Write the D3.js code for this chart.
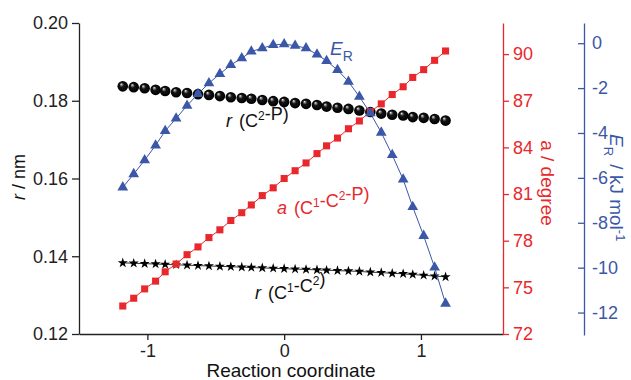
<!DOCTYPE html>
<html>
<head>
<meta charset="utf-8">
<script src="https://cdn.jsdelivr.net/npm/d3@7/dist/d3.min.js"></script>
<style>
  body { margin: 0; background: #fff; }
  svg { font-family: "Liberation Sans", Arial, sans-serif; }
</style>
</head>
<body>
<div id="chart"></div>
<script>
// reaction coordinate, shared by all four series
const coord = [-1.18, -1.10, -1.02, -0.94, -0.87, -0.79, -0.71, -0.63, -0.55, -0.47, -0.39,
  -0.31, -0.24, -0.16, -0.08, 0, 0.08, 0.16, 0.24, 0.31, 0.39, 0.47, 0.55, 0.63, 0.71,
  0.79, 0.87, 0.94, 1.02, 1.10, 1.18];

// r(C2-P) in nm
const rC2P = [0.1837, 0.1835, 0.1832, 0.1828, 0.1825, 0.1822, 0.1820, 0.1817, 0.1815, 0.1812,
  0.1809, 0.1807, 0.1805, 0.1802, 0.1799, 0.1797, 0.1794, 0.1792, 0.1789, 0.1785, 0.1782,
  0.1779, 0.1775, 0.1771, 0.1767, 0.1764, 0.1762, 0.1758, 0.1756, 0.1753, 0.1749];

// r(C1-C2) in nm
const rC1C2 = [0.1383, 0.1382, 0.1381, 0.1380, 0.1379, 0.1378, 0.1377, 0.1376, 0.1375, 0.1374,
  0.1373, 0.1372, 0.1371, 0.1370, 0.1369, 0.1368, 0.1367, 0.1366, 0.1365, 0.1364, 0.1363,
  0.1362, 0.1361, 0.1359, 0.1358, 0.1356, 0.1355, 0.1353, 0.1351, 0.1349, 0.1347];

// a(C1-C2-P) in degree
const angle = [73.8, 74.3, 74.9, 75.4, 76.0, 76.5, 77.1, 77.6, 78.2, 78.7, 79.3, 79.8, 80.3,
  80.9, 81.4, 82.0, 82.5, 83.0, 83.6, 84.1, 84.6, 85.2, 85.7, 86.3, 86.8, 87.4, 87.9, 88.5,
  89.0, 89.6, 90.2];

// E_R in kJ/mol
const energy = [-6.42, -5.83, -5.21, -4.55, -3.91, -3.35, -2.78, -2.26, -1.78, -1.37, -0.97,
  -0.67, -0.37, -0.22, -0.08, -0.04, -0.11, -0.22, -0.50, -0.79, -1.19, -1.71, -2.38, -3.12,
  -3.98, -4.98, -6.07, -7.29, -8.58, -9.99, -11.60];

const xTicks = [-1, 0, 1];
const rTicks = [0.12, 0.14, 0.16, 0.18, 0.20];
const aTicks = [72, 75, 78, 81, 84, 87, 90];
const eTicks = [0, -2, -4, -6, -8, -10, -12];

const W = 631, H = 380;
const red = '#e8282c', blue = '#3b58a8';

const svg = d3.select('#chart').append('svg')
  .attr('width', W).attr('height', H);

const x = d3.scaleLinear().domain([-1.5, 1.6]).range([79, 503]);
const yR = d3.scaleLinear().domain([0.12, 0.20]).range([334, 23]);
const yA = d3.scaleLinear().domain([72, 92]).range([334, 23]);
const yE = d3.scaleLinear().domain([-13, 0.9]).range([335, 23]);

function styleAxis(g, color) {
  g.select('.domain').attr('stroke', color).attr('stroke-width', 1.3);
  g.selectAll('.tick line').attr('stroke', color).attr('stroke-width', 1.3);
  g.selectAll('.tick text').attr('fill', color).style('font-size', '18px')
    .style('font-family', '"Liberation Sans", Arial, sans-serif');
}

// axes
svg.append('g')
  .attr('transform', 'translate(0,334)')
  .call(d3.axisBottom(x).tickValues(xTicks).tickSize(6).tickPadding(4).tickSizeOuter(0)
    .tickFormat(d => String(d)))
  .call(g => styleAxis(g, '#222'));

svg.append('g')
  .attr('transform', 'translate(79,0)')
  .call(d3.axisLeft(yR).tickValues(rTicks).tickSize(7).tickPadding(4).tickSizeOuter(0)
    .tickFormat(d3.format('.2f')))
  .call(g => styleAxis(g, '#222'));

svg.append('g')
  .attr('transform', 'translate(503,0)')
  .call(d3.axisRight(yA).tickValues(aTicks).tickSize(6).tickPadding(4).tickSizeOuter(0)
    .tickFormat(d => String(d)))
  .call(g => styleAxis(g, red));

svg.append('g')
  .attr('transform', 'translate(584,0)')
  .call(d3.axisRight(yE).tickValues(eTicks).tickSize(-6).tickPadding(8).tickSizeOuter(0)
    .tickFormat(d => String(d)))
  .call(g => styleAxis(g, blue));

// axis titles
svg.append('text')
  .attr('x', 291).attr('y', 377).attr('text-anchor', 'middle')
  .style('font-size', '19px').attr('fill', '#111')
  .text('Reaction coordinate');

const tR = svg.append('text')
  .attr('transform', 'translate(25,177) rotate(-90)').attr('text-anchor', 'middle')
  .style('font-size', '18px').attr('fill', '#111');
tR.append('tspan').style('font-style', 'italic').text('r');
tR.append('tspan').text(' / nm');

svg.append('text')
  .attr('transform', 'translate(541,183) rotate(90)').attr('text-anchor', 'middle')
  .style('font-size', '19px').attr('fill', red)
  .text('a / degree');

const tE = svg.append('text')
  .attr('transform', 'translate(610,134) rotate(90)')
  .style('font-size', '19px').attr('fill', blue);
tE.append('tspan').style('font-style', 'italic').text('E');
tE.append('tspan').attr('dy', 6).style('font-size', '13px').text('R');
tE.append('tspan').attr('dy', -6).attr('dx', 3).text(' /  kJ  mol');
tE.append('tspan').attr('dy', -6).style('font-size', '13px').text('-1');

// series
const pts = arr => coord.map((c, i) => [c, arr[i]]);

// r(C1-C2): stars joined by a thin line
svg.append('path')
  .datum(pts(rC1C2))
  .attr('fill', 'none').attr('stroke', '#000').attr('stroke-width', 0.8)
  .attr('d', d3.line().x(d => x(d[0])).y(d => yR(d[1])));
svg.append('g').selectAll('path')
  .data(pts(rC1C2)).join('path')
  .attr('transform', d => `translate(${x(d[0])},${yR(d[1])})`)
  .attr('d', d3.symbol(d3.symbolStar, 32)())
  .attr('fill', '#000');

// r(C2-P): shaded black spheres
const defs = svg.append('defs');
const grad = defs.append('radialGradient').attr('id', 'ball')
  .attr('cx', '50%').attr('cy', '50%').attr('r', '50%')
  .attr('fx', '34%').attr('fy', '28%');
grad.append('stop').attr('offset', '0%').attr('stop-color', '#ffffff');
grad.append('stop').attr('offset', '14%').attr('stop-color', '#9a9a9a');
grad.append('stop').attr('offset', '40%').attr('stop-color', '#141414');
grad.append('stop').attr('offset', '100%').attr('stop-color', '#000');

svg.append('g').selectAll('circle')
  .data(pts(rC2P)).join('circle')
  .attr('cx', d => x(d[0])).attr('cy', d => yR(d[1])).attr('r', 5.3)
  .attr('fill', 'url(#ball)');

// a(C1-C2-P): red squares
svg.append('path')
  .datum(pts(angle))
  .attr('fill', 'none').attr('stroke', red).attr('stroke-width', 1)
  .attr('d', d3.line().x(d => x(d[0])).y(d => yA(d[1])));
svg.append('g').selectAll('path')
  .data(pts(angle)).join('path')
  .attr('transform', d => `translate(${x(d[0])},${yA(d[1])})`)
  .attr('d', d3.symbol(d3.symbolSquare, 50)())
  .attr('fill', red);

// E_R: blue triangles
svg.append('path')
  .datum(pts(energy))
  .attr('fill', 'none').attr('stroke', blue).attr('stroke-width', 1)
  .attr('d', d3.line().x(d => x(d[0])).y(d => yE(d[1])));
svg.append('g').selectAll('path')
  .data(pts(energy)).join('path')
  .attr('transform', d => `translate(${x(d[0])},${yE(d[1])})`)
  .attr('d', d3.symbol(d3.symbolTriangle, 50)())
  .attr('fill', blue);

// series labels
function label(px, py, color, sym, parts) {
  const t = svg.append('text').attr('x', px).attr('y', py)
    .style('font-size', '18px').attr('fill', color);
  t.append('tspan').style('font-style', 'italic').text(sym);
  t.append('tspan').attr('dx', 7).text('(');
  parts.forEach(p => {
    if (p.sup) {
      t.append('tspan').attr('dy', -7).style('font-size', '12px').text(p.sup);
      t.append('tspan').attr('dy', 7).text('');
    } else {
      t.append('tspan').text(p.t);
    }
  });
  return t;
}

const er = svg.append('text').attr('x', 330).attr('y', 55)
  .style('font-size', '19px').attr('fill', blue);
er.append('tspan').style('font-style', 'italic').text('E');
er.append('tspan').attr('dy', 6).style('font-size', '14px').text('R');

label(226, 127, '#111', 'r', [{t: 'C'}, {sup: '2'}, {t: '-P)'}]);
label(277, 214, red, 'a', [{t: 'C'}, {sup: '1'}, {t: '-C'}, {sup: '2'}, {t: '-P)'}]);
label(255, 299, '#111', 'r', [{t: 'C'}, {sup: '1'}, {t: '-C'}, {sup: '2'}, {t: ')'}]);
</script>
</body>
</html>
